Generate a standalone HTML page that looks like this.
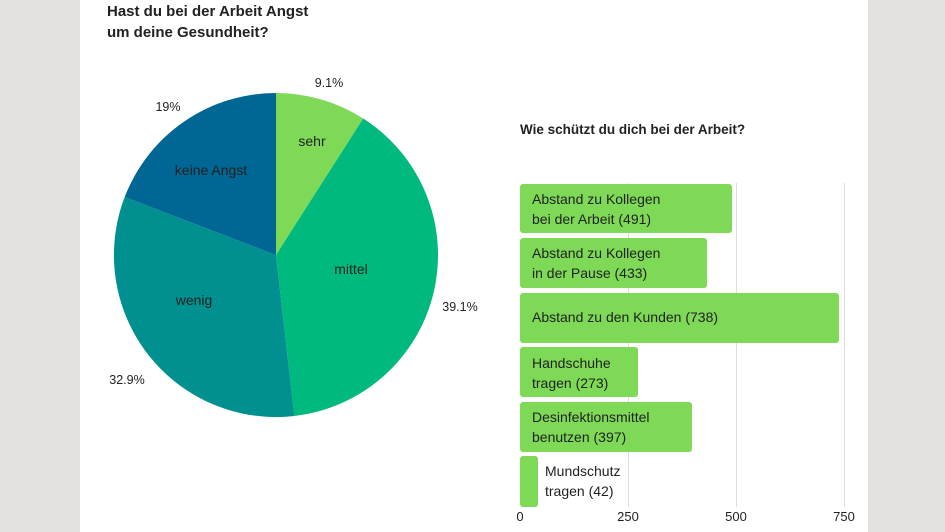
<!DOCTYPE html>
<html><head><meta charset="utf-8"><style>
body{margin:0;width:945px;height:532px;overflow:hidden;background:#e4e2e0;font-family:"Liberation Sans",Arial,sans-serif;}
#p{position:absolute;left:80px;top:0;width:788px;height:532px;background:#fff;}
</style></head><body>
<div id="p"></div>
<svg width="945" height="532" style="position:absolute;left:0;top:0" font-family="Liberation Sans, Arial, sans-serif">
<text x="107" y="16" font-size="15" font-weight="bold" fill="#222">Hast du bei der Arbeit Angst</text>
<text x="107" y="37" font-size="15" font-weight="bold" fill="#222">um deine Gesundheit?</text>
<g transform="translate(276,255)">
<path d="M0,0 L0,-162 A162,162 0 0,1 87.2,-136.5 Z" fill="#7ed957"/>
<path d="M0,0 L87.2,-136.5 A162,162 0 0,1 18.3,161 Z" fill="#00b97e"/>
<path d="M0,0 L18.3,161 A162,162 0 0,1 -151.3,-58.0 Z" fill="#00908f"/>
<path d="M0,0 L-151.3,-58.0 A162,162 0 0,1 0,-162 Z" fill="#006694"/>
</g>
<g font-size="14" fill="#222" text-anchor="middle">
<text x="312" y="146">sehr</text>
<text x="351" y="274">mittel</text>
<text x="194" y="305">wenig</text>
<text x="211" y="175">keine Angst</text>
</g>
<g font-size="12.5" fill="#222" text-anchor="middle">
<text x="329" y="87">9.1%</text>
<text x="460" y="311">39.1%</text>
<text x="127" y="384">32.9%</text>
<text x="168" y="111">19%</text>
</g>
<text x="520" y="134" font-size="13.5" font-weight="bold" fill="#222">Wie schützt du dich bei der Arbeit?</text>
<g stroke="#ddd" stroke-width="1">
<line x1="628.5" y1="183" x2="628.5" y2="507"/>
<line x1="736.5" y1="183" x2="736.5" y2="507"/>
<line x1="844.5" y1="183" x2="844.5" y2="507"/>
</g>
<g fill="#7ed957">
<rect x="520" y="184" width="212" height="49" rx="3"/>
<rect x="520" y="238" width="187" height="50" rx="3"/>
<rect x="520" y="293" width="319" height="50" rx="3"/>
<rect x="520" y="347" width="118" height="50" rx="3"/>
<rect x="520" y="402" width="172" height="50" rx="3"/>
<rect x="520" y="456" width="18" height="51" rx="3"/>
</g>
<g font-size="14" fill="#222">
<text x="532" y="204">Abstand zu Kollegen</text><text x="532" y="224">bei der Arbeit (491)</text>
<text x="532" y="258">Abstand zu Kollegen</text><text x="532" y="278">in der Pause (433)</text>
<text x="532" y="322">Abstand zu den Kunden (738)</text>
<text x="532" y="368">Handschuhe</text><text x="532" y="388">tragen (273)</text>
<text x="532" y="422">Desinfektionsmittel</text><text x="532" y="442">benutzen (397)</text>
<text x="545" y="476">Mundschutz</text><text x="545" y="496">tragen (42)</text>
</g>
<g font-size="13" fill="#222" text-anchor="middle">
<text x="520" y="521">0</text><text x="628" y="521">250</text><text x="736" y="521">500</text><text x="844" y="521">750</text>
</g>
</svg>
</body></html>
